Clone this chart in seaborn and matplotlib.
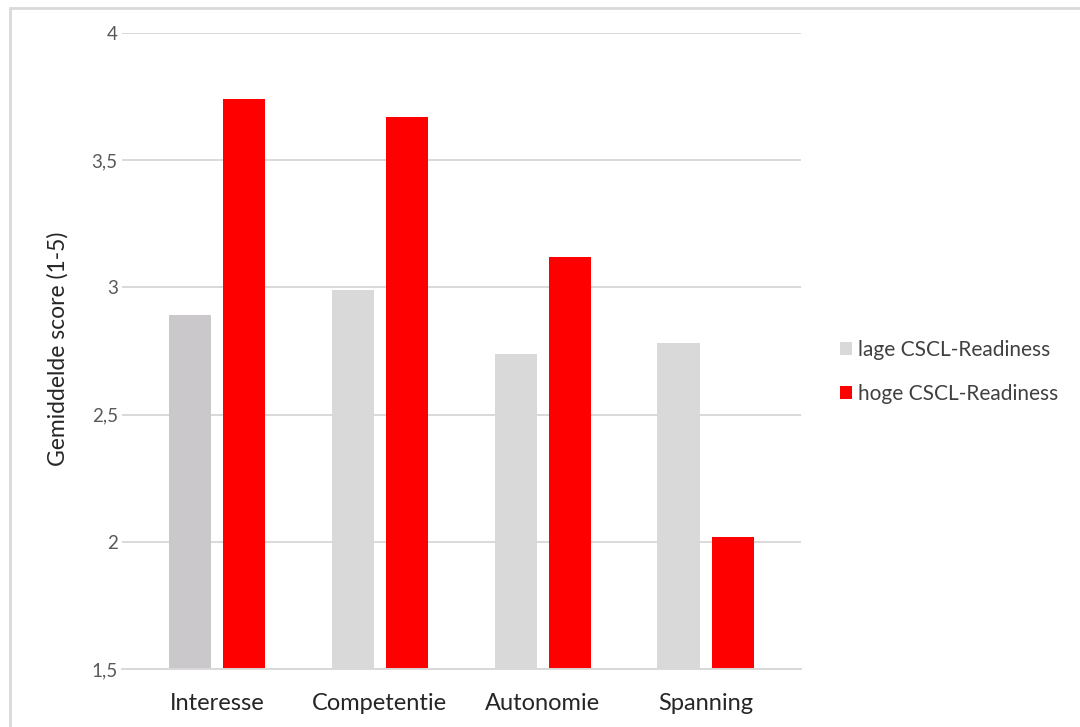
import matplotlib
matplotlib.use("Agg")
import matplotlib.pyplot as plt
from matplotlib.patches import Patch
from matplotlib.lines import Line2D
import seaborn as sns
import pandas as pd

# Mean scores per motivation dimension for the two CSCL-readiness groups
categories = ["Interesse", "Competentie", "Autonomie", "Spanning"]
groups = ["lage CSCL-Readiness", "hoge CSCL-Readiness"]
lage = [2.89, 2.99, 2.74, 2.78]
hoge = [3.74, 3.67, 3.12, 2.02]
yticks = [1.5, 2.0, 2.5, 3.0, 3.5, 4.0]
ytick_labels = ["1,5", "2", "2,5", "3", "3,5", "4"]

df = pd.DataFrame({
    "categorie": categories * 2,
    "groep": [groups[0]] * 4 + [groups[1]] * 4,
    "score": lage + hoge,
})

sns.set_theme(style="white")
plt.rcParams["font.family"] = ["Lato", "DejaVu Sans"]

W, H = 1080, 727
fig = plt.figure(figsize=(W / 100, H / 100), dpi=100)
ax = fig.add_axes([122 / W, 1 - 669 / H, (800.7 - 122) / W, (669 - 33) / H])

palette = {groups[0]: "#D9D9D9", groups[1]: "#FF0000"}
sns.barplot(data=df, x="categorie", y="score", hue="groep", order=categories,
            hue_order=groups, palette=palette, width=0.666, gap=0.22,
            saturation=1, linewidth=0, legend=False, ax=ax)

# first grey bar is a slightly darker shade
for p in ax.patches:
    cx = p.get_x() + p.get_width() / 2
    if abs(cx - (-0.167)) < 0.05:
        p.set_facecolor("#CAC8CA")

ax.set_ylim(1.5, 4.0)
ax.set_xlim(-0.583, 3.583)
ax.set_yticks(yticks)
ax.set_yticklabels(ytick_labels)
ax.yaxis.grid(True, color="#D9D9D9", linewidth=1.4)
ax.set_axisbelow(True)
for s in ["top", "right", "left"]:
    ax.spines[s].set_visible(False)
ax.spines["bottom"].set_color("#D9D9D9")
ax.spines["bottom"].set_linewidth(1.4)
ax.tick_params(axis="y", length=0, pad=3, labelsize=13.5, labelcolor="#595959")
ax.tick_params(axis="x", length=0, pad=17, labelsize=17, labelcolor="#262626")
ax.set_xlabel("")
ax.set_ylabel("Gemiddelde score (1-5)", fontsize=16.5, color="#262626")
ax.yaxis.set_label_coords(-53 / (800.7 - 122), 0.5 + 2 / 636)

handles = [Patch(facecolor=palette[g], edgecolor="none") for g in groups]
fig.legend(handles, groups, loc="center left", bbox_to_anchor=(821 / W, 1 - 372 / H),
           frameon=False, fontsize=15, handlelength=0.6, handleheight=0.6,
           handletextpad=0.3, labelspacing=1.15, labelcolor="#404040")

# outer frame
fig.add_artist(Line2D([10 / W, 1.0], [1 - 8 / H, 1 - 8 / H], transform=fig.transFigure,
                      color="#D9D9D9", linewidth=2))
fig.add_artist(Line2D([10 / W, 10 / W], [1 - 8 / H, 1 - 726 / H], transform=fig.transFigure,
                      color="#D9D9D9", linewidth=2))

fig.savefig("out.png", dpi=100, facecolor="white")
